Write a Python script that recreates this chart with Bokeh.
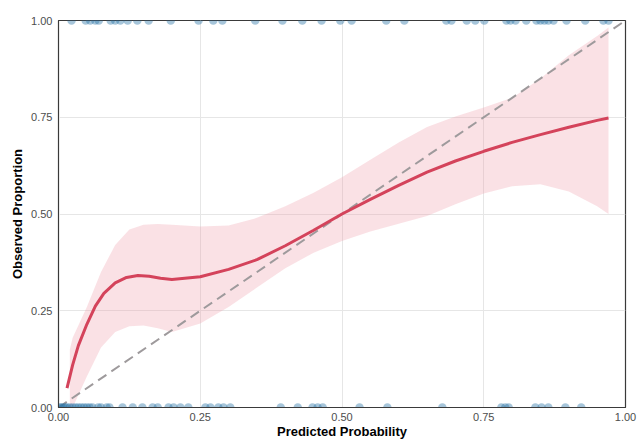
from bokeh.plotting import figure
from bokeh.models import Range1d, FixedTicker
from bokeh.embed import file_html
from bokeh.resources import INLINE

# Observed outcomes (jittered predicted probabilities) at y=1 and y=0
pos_x = [0.023, 0.048, 0.056, 0.065, 0.071, 0.092, 0.100, 0.109, 0.122, 0.139, 0.159,
         0.198, 0.247, 0.273, 0.289, 0.347, 0.395, 0.430, 0.464, 0.497, 0.517, 0.578,
         0.610, 0.684, 0.693, 0.720, 0.735, 0.751, 0.790, 0.797, 0.806, 0.825, 0.843,
         0.850, 0.857, 0.864, 0.873, 0.896, 0.929, 0.961, 0.970]
neg_x = [0.002, 0.005, 0.008, 0.012, 0.015, 0.020, 0.025, 0.030, 0.035, 0.040, 0.045,
         0.050, 0.055, 0.060, 0.070, 0.075, 0.085, 0.090, 0.113, 0.131, 0.148, 0.166,
         0.175, 0.194, 0.203, 0.215, 0.229, 0.259, 0.268, 0.282, 0.291, 0.303, 0.392,
         0.422, 0.448, 0.457, 0.466, 0.531, 0.580, 0.677, 0.781, 0.788, 0.794, 0.841,
         0.852, 0.864, 0.894, 0.922]

# Smoothed calibration curve
curve_x = [0.015, 0.025, 0.035, 0.05, 0.065, 0.08, 0.10, 0.12, 0.14, 0.16, 0.18, 0.20,
           0.25, 0.30, 0.35, 0.40, 0.45, 0.50, 0.55, 0.60, 0.65, 0.70, 0.75, 0.80,
           0.85, 0.90, 0.95, 0.97]
curve_y = [0.05, 0.11, 0.16, 0.215, 0.262, 0.295, 0.322, 0.336, 0.341, 0.339, 0.334,
           0.331, 0.338, 0.357, 0.382, 0.418, 0.458, 0.50, 0.538, 0.574, 0.608, 0.637,
           0.662, 0.685, 0.705, 0.724, 0.742, 0.748]

# Confidence band
band_x = [0.02, 0.025, 0.05, 0.075, 0.10, 0.125, 0.15, 0.175, 0.20, 0.25, 0.30, 0.35,
          0.40, 0.45, 0.50, 0.55, 0.60, 0.65, 0.70, 0.75, 0.80, 0.85, 0.90, 0.95, 0.97]
band_hi = [0.15, 0.18, 0.26, 0.35, 0.42, 0.46, 0.472, 0.474, 0.472, 0.468, 0.47, 0.49,
           0.52, 0.555, 0.595, 0.64, 0.685, 0.725, 0.752, 0.775, 0.80, 0.85, 0.91, 0.96, 0.982]
band_lo = [0.0, 0.0, 0.08, 0.155, 0.195, 0.21, 0.212, 0.205, 0.195, 0.217, 0.26, 0.31,
           0.36, 0.40, 0.43, 0.455, 0.475, 0.495, 0.525, 0.553, 0.572, 0.577, 0.558, 0.52, 0.50]

ref_x = [0.0, 1.0]
ref_y = [0.0, 1.0]
ticks = [0.0, 0.25, 0.5, 0.75, 1.0]
tick_labels = {0.0: "0.00", 0.25: "0.25", 0.5: "0.50", 0.75: "0.75", 1.0: "1.00"}

FONT = "Liberation Sans"

p = figure(width=638, height=441, output_backend="svg", toolbar_location=None,
           x_range=Range1d(0, 1), y_range=Range1d(0, 1),
           min_border_left=58, min_border_right=13, min_border_top=20, min_border_bottom=34)

p.varea(x=band_x, y1=band_lo, y2=band_hi, fill_color="#ee9aaa", fill_alpha=0.3)
p.line(ref_x, ref_y, line_color="#9e9a9c", line_width=2, line_dash="10 6")
p.line(curve_x, curve_y, line_color="#d4435b", line_width=3)
p.scatter(pos_x, [1.0] * len(pos_x), size=8.5, fill_color="#2a74a6", fill_alpha=0.42,
          line_color=None)
p.scatter(neg_x, [0.0] * len(neg_x), size=8.5, fill_color="#2a74a6", fill_alpha=0.42,
          line_color=None)

p.outline_line_color = "#3a3a3a"
p.outline_line_width = 1.2
p.background_fill_color = "white"
p.border_fill_color = "white"

for ax in (p.xaxis[0], p.yaxis[0]):
    ax.ticker = FixedTicker(ticks=ticks)
    ax.major_label_overrides = tick_labels
    ax.major_tick_line_color = None
    ax.major_tick_out = 0
    ax.major_tick_in = 0
    ax.minor_tick_line_color = None
    ax.minor_tick_out = 0
    ax.axis_line_color = "#3a3a3a"
    ax.major_label_text_font = FONT
    ax.major_label_text_font_size = "11px"
    ax.major_label_text_color = "#4d4d4d"
    ax.axis_label_text_font = FONT
    ax.axis_label_text_font_size = "13px"
    ax.axis_label_text_font_style = "bold"
    ax.axis_label_text_color = "black"

p.xaxis[0].major_label_standoff = 5
p.xaxis[0].axis_label_standoff = 0
p.yaxis[0].major_label_standoff = 6
p.yaxis[0].axis_label_standoff = 3

p.xaxis.axis_label = "Predicted Probability"
p.yaxis.axis_label = "Observed Proportion"

p.xgrid.ticker = FixedTicker(ticks=[0.25, 0.5, 0.75])
p.ygrid.ticker = FixedTicker(ticks=[0.25, 0.5, 0.75])
p.grid.grid_line_color = "#e6e6e6"
p.grid.grid_line_width = 1

open("out.html", "w").write(file_html(p, INLINE))
